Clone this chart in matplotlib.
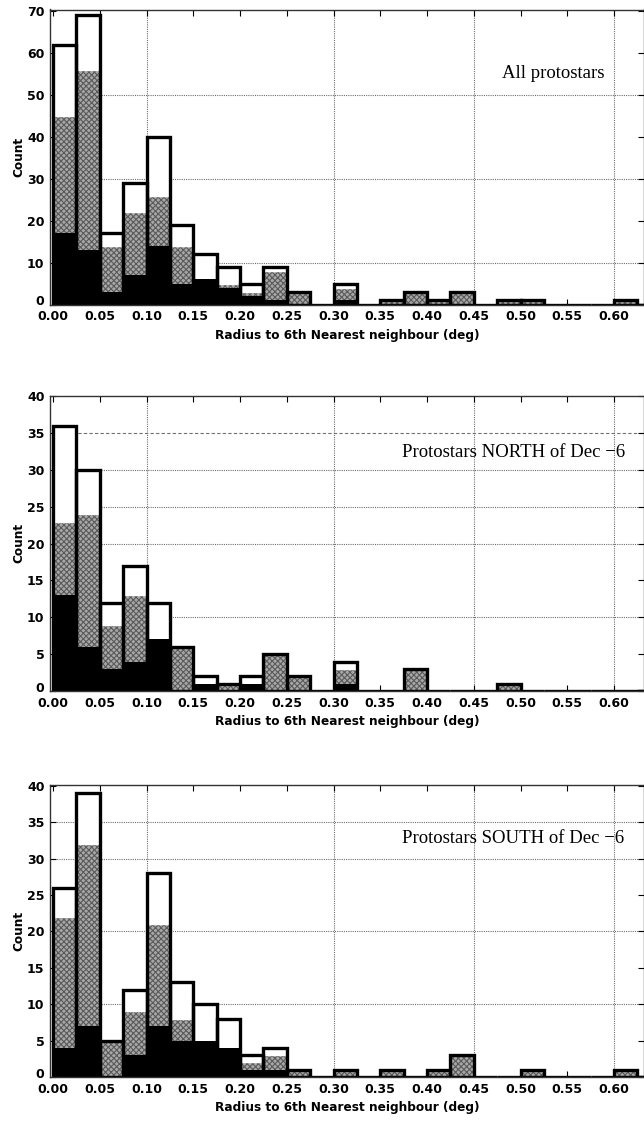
import matplotlib
matplotlib.use("Agg")
import matplotlib.pyplot as plt
import matplotlib.transforms as mtrans
import numpy as np

plt.rcParams['hatch.linewidth'] = 0.8

# bin left edges (deg), bin width 0.025
bin_edges = [i * 0.025 for i in range(26)]
bin_width = 0.025

# ---- All protostars ----
all_total = [62, 69, 17, 29, 40, 19, 12, 9, 5, 9, 3, 0, 5, 0, 1, 3, 1, 3, 0, 1, 1, 0, 0, 0, 1, 0]
all_gray  = [45, 56, 14, 22, 26, 14, 5, 5, 3, 8, 3, 0, 4, 0, 1, 3, 1, 3, 0, 1, 1, 0, 0, 0, 1, 0]
all_black = [17, 13, 3, 7, 14, 5, 6, 4, 2, 1, 0, 0, 1, 0, 0, 0, 0, 0, 0, 0, 0, 0, 0, 0, 0, 0]

# ---- North of Dec -6 ----
north_total = [36, 30, 12, 17, 12, 6, 2, 1, 2, 5, 2, 0, 4, 0, 0, 3, 0, 0, 0, 1, 0, 0, 0, 0, 0, 0]
north_gray  = [23, 24, 9, 13, 5, 6, 1, 1, 1, 5, 2, 0, 3, 0, 0, 3, 0, 0, 0, 1, 0, 0, 0, 0, 0, 0]
north_black = [13, 6, 3, 4, 7, 0, 1, 0, 1, 0, 0, 0, 1, 0, 0, 0, 0, 0, 0, 0, 0, 0, 0, 0, 0, 0]

# ---- South of Dec -6 ----
south_total = [26, 39, 5, 12, 28, 13, 10, 8, 3, 4, 1, 0, 1, 0, 1, 0, 1, 3, 0, 0, 1, 0, 0, 0, 1, 0]
south_gray  = [22, 32, 5, 9, 21, 8, 4, 4, 2, 3, 1, 0, 1, 0, 1, 0, 1, 3, 0, 0, 1, 0, 0, 0, 1, 0]
south_black = [4, 7, 0, 3, 7, 5, 5, 4, 1, 1, 0, 0, 0, 0, 0, 0, 0, 0, 0, 0, 0, 0, 0, 0, 0, 0]

titles = ["All protostars", "Protostars NORTH of Dec \u22126", "Protostars SOUTH of Dec \u22126"]
x_ticks = [0.0, 0.05, 0.10, 0.15, 0.20, 0.25, 0.30, 0.35, 0.40, 0.45, 0.50, 0.55, 0.60]
x_grid = [0.10, 0.30, 0.45, 0.60]

panels = [
    dict(total=all_total, gray=all_gray, black=all_black, ymax=70.4, yticks=list(range(0, 71, 10)),
         ygrid=[10, 30, 50], ydash=[], title_xy=(0.590, 55.2),
         rect=[50/644, 1-304.5/1121, 594/644, 295/1121]),
    dict(total=north_total, gray=north_gray, black=north_black, ymax=40.1, yticks=list(range(0, 41, 5)),
         ygrid=[10, 20, 25, 30], ydash=[35], title_xy=(0.612, 32.4),
         rect=[50/644, 1-691/1121, 594/644, 295.5/1121]),
    dict(total=south_total, gray=south_gray, black=south_black, ymax=40.1, yticks=list(range(0, 41, 5)),
         ygrid=[10, 20, 30, 35], ydash=[], title_xy=(0.611, 32.7),
         rect=[50/644, 1-1077/1121, 594/644, 292/1121]),
]

fig = plt.figure(figsize=(6.44, 11.21), dpi=100)
tick_font = dict(family='DejaVu Sans', weight='bold', size=9)

for p, title in zip(panels, titles):
    ax = fig.add_axes(p['rect'])
    ax.set_xlim(-0.0032, 0.632)
    ax.set_ylim(0, p['ymax'])
    # grid lines
    for gx in x_grid:
        ax.axvline(gx, color='#707070', lw=0.8, ls=(0, (1, 1)), zorder=1)
    for gy in p['ygrid']:
        ax.axhline(gy, color='#707070', lw=0.8, ls=(0, (1, 1)), zorder=1)
    for gy in p['ydash']:
        ax.axhline(gy, color='#707070', lw=0.8, ls=(0, (3, 2)), zorder=1)

    # total (white) bars
    ax.bar(bin_edges, p['total'], width=bin_width, align='edge', color='white',
           edgecolor='none', linewidth=0, zorder=2)
    # gray hatched subset
    ax.bar(bin_edges, p['gray'], width=bin_width, align='edge', color='#a8a8a8',
           edgecolor='#5a5a5a', hatch='xxxxxx', linewidth=0, zorder=3)
    ax.bar(bin_edges, p['gray'], width=bin_width, align='edge', fill=False,
           edgecolor='white', linewidth=1.0, zorder=3.5)
    # black subset
    ax.bar(bin_edges, p['black'], width=bin_width, align='edge', color='black',
           edgecolor='none', linewidth=0, zorder=4)
    # total outlines on top
    ax.bar(bin_edges, p['total'], width=bin_width, align='edge', fill=False,
           edgecolor='black', linewidth=2.4, zorder=5)

    ax.set_xticks(x_ticks)
    ax.set_xticklabels([f"{t:.2f}" for t in x_ticks], fontdict=tick_font)
    ax.set_yticks(p['yticks'])
    ax.set_yticklabels([str(t) for t in p['yticks']], fontdict=tick_font)
    ax.tick_params(direction='in', length=4, width=0.8, top=True, right=True,
                   colors='black')
    ax.tick_params(axis='x', pad=4)
    ax.tick_params(axis='y', pad=4)
    # nudge the "0" y label upward so it clears the "0.00" x label
    lbl0 = ax.get_yticklabels()[0]
    lbl0.set_transform(lbl0.get_transform() +
                       mtrans.ScaledTranslation(0, 3/72, fig.dpi_scale_trans))
    for s in ax.spines.values():
        s.set_linewidth(1.0)
        s.set_color('#333333')
        s.set_zorder(6)
    ax.set_xlabel("Radius to 6th Nearest neighbour (deg)", family='DejaVu Sans',
                  weight='bold', size=8.7, labelpad=4)
    ax.set_ylabel("Count", family='DejaVu Sans', weight='bold', size=8.7, labelpad=1)
    ax.text(p['title_xy'][0], p['title_xy'][1], title, ha='right', va='center',
            family='Liberation Serif', size=13.5, zorder=7)

fig.savefig("out.png", dpi=100)
